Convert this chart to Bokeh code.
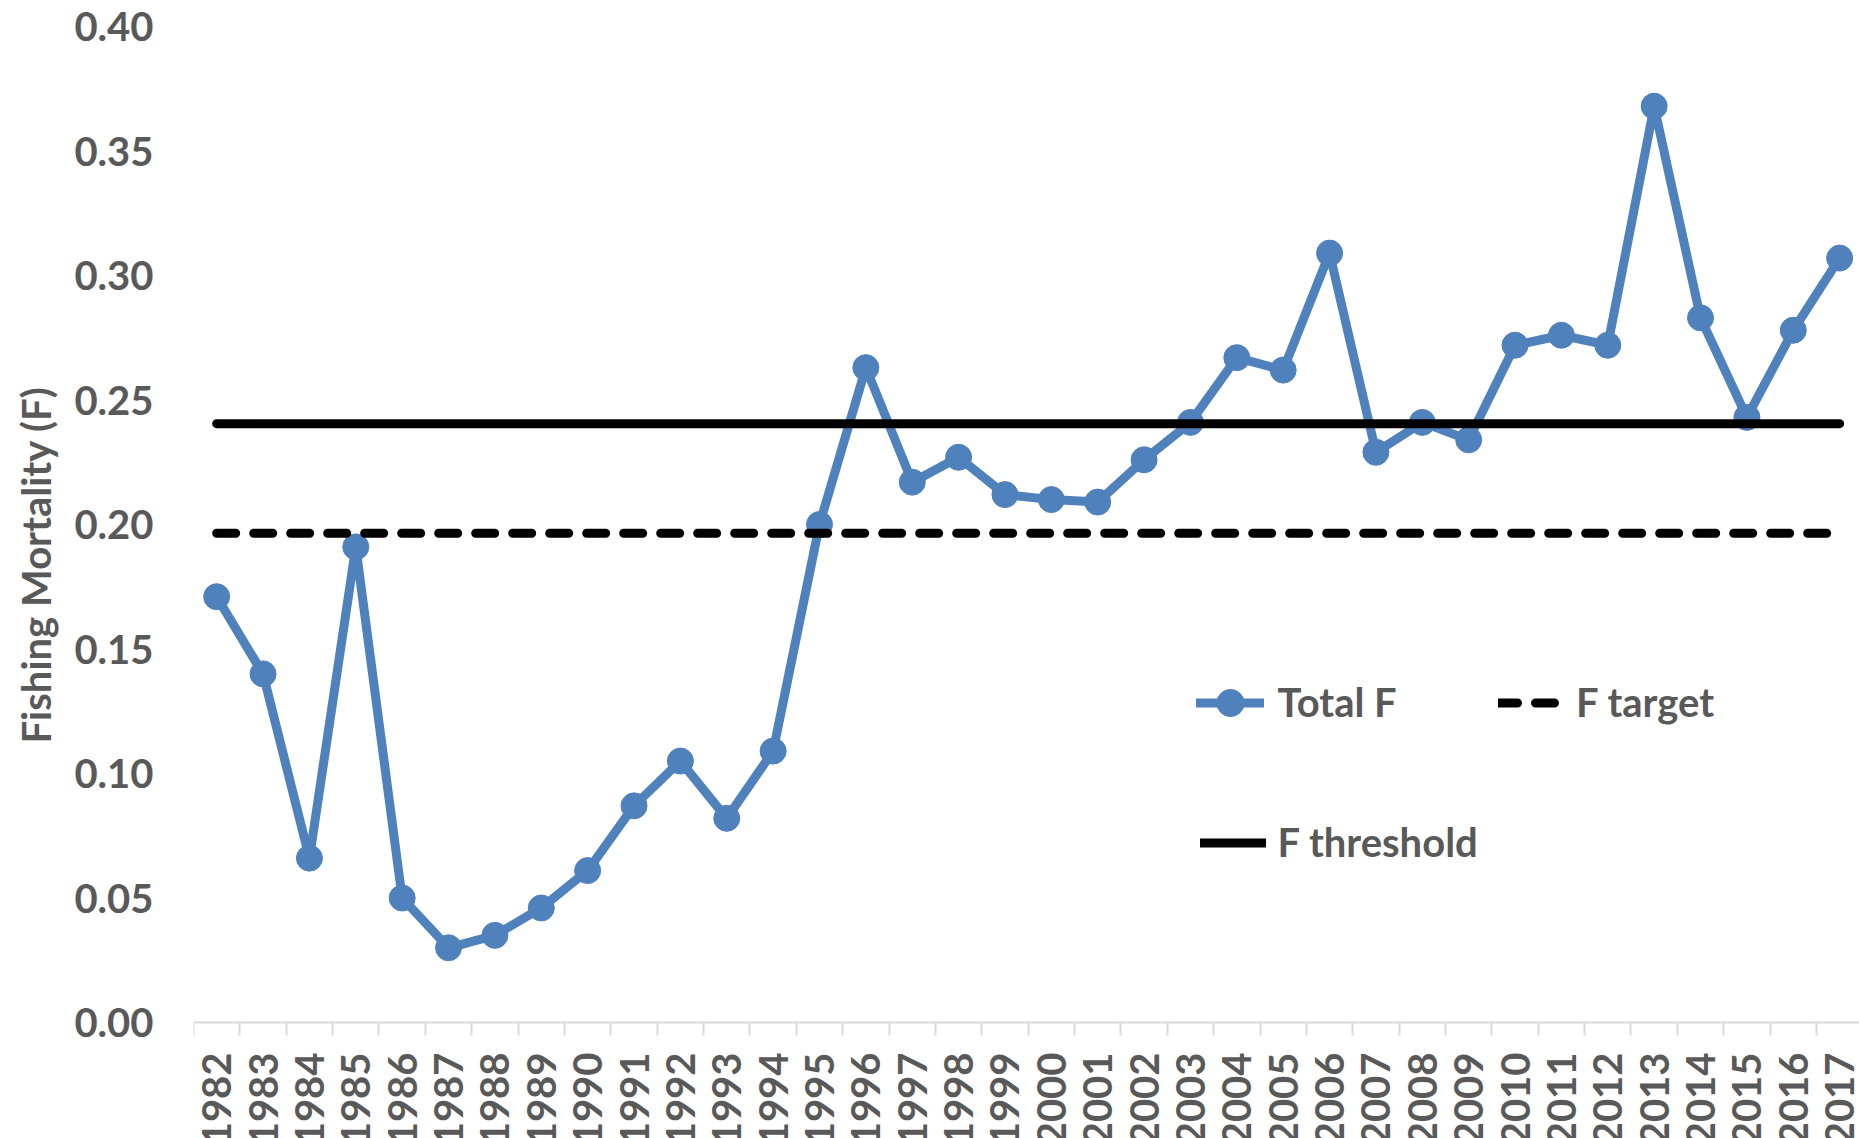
import math
from bokeh.plotting import figure
from bokeh.models import (Range1d, FixedTicker, PrintfTickFormatter, Legend, LegendItem, Title)
from bokeh.embed import file_html
from bokeh.resources import INLINE

years = list(range(1982, 2018))
total_f = [0.171, 0.140, 0.066, 0.191, 0.050, 0.030, 0.035, 0.046, 0.061, 0.087,
           0.105, 0.082, 0.109, 0.200, 0.263, 0.217, 0.227, 0.212, 0.210, 0.209,
           0.226, 0.241, 0.267, 0.262, 0.309, 0.229, 0.241, 0.234, 0.272, 0.276,
           0.272, 0.368, 0.283, 0.243, 0.278, 0.307]
f_target = 0.1965
f_threshold = 0.2405
y_ticks = [0.0, 0.05, 0.10, 0.15, 0.20, 0.25, 0.30, 0.35, 0.40]
y_title = "Fishing Mortality (F)"

BLUE = "#4f81bd"
TXT = "#595959"
FONT = "Lato"
FS = "40px"

W, H = 1859, 1138
LEFT, TOP = 193, 26
PX_PER_YEAR = 46.37
PX_PER_UNIT = (1022 - TOP) / (y_ticks[-1] - y_ticks[0])

x_end = years[0] - 0.5 + (W - LEFT) / PX_PER_YEAR
y_start = y_ticks[0] - (H - 1022) / PX_PER_UNIT

p = figure(width=W, height=H, output_backend="svg", toolbar_location=None,
           x_range=Range1d(years[0] - 0.5, x_end),
           y_range=Range1d(y_start, y_ticks[-1]),
           min_border_left=LEFT, min_border_right=0, min_border_top=TOP,
           min_border_bottom=0)
p.outline_line_color = None
p.grid.visible = False

# x axis (sits at y = 0, inside the frame)
xa = p.xaxis[0]
xa.fixed_location = 0
xa.ticker = FixedTicker(ticks=years, minor_ticks=[y - 0.5 for y in years] + [years[-1] + 0.5])
xa.major_label_overrides = {y: str(y) for y in years}
xa.major_label_orientation = math.pi / 2
xa.major_tick_in = 0
xa.major_tick_out = 0
xa.major_tick_line_color = None
xa.minor_tick_in = 0
xa.minor_tick_out = 13
xa.minor_tick_line_color = "#d9d9d9"
xa.minor_tick_line_width = 2
xa.axis_line_color = "#d9d9d9"
xa.axis_line_width = 2
xa.major_label_standoff = 17
xa.major_label_text_font = FONT
xa.major_label_text_font_style = "bold"
xa.major_label_text_font_size = FS
xa.major_label_text_color = TXT

# y axis
ya = p.yaxis[0]
ya.ticker = FixedTicker(ticks=y_ticks)
ya.formatter = PrintfTickFormatter(format="%.2f")
ya.axis_line_color = None
ya.major_tick_line_color = None
ya.minor_tick_line_color = None
ya.major_tick_in = 0
ya.major_tick_out = 0
ya.major_label_standoff = 40
ya.major_label_text_font = FONT
ya.major_label_text_font_style = "bold"
ya.major_label_text_font_size = FS
ya.major_label_text_color = TXT

# y axis title, placed to the left of the axis
yt = Title(text=y_title, align="left", offset=395, vertical_align="top", standoff=19,
           text_font=FONT, text_font_style="bold", text_font_size=FS, text_color=TXT)
p.add_layout(yt, "left")

# data
r_line = p.line(years, total_f, line_width=9, line_color=BLUE, line_join="round", line_cap="round")
r_pts = p.scatter(years, total_f, size=26, fill_color=BLUE, line_color=BLUE)
r_tgt = p.line([years[0], years[-1]], [f_target, f_target], line_width=9, line_color="black",
               line_dash="19 18", line_cap="round")
r_thr = p.line([years[0], years[-1]], [f_threshold, f_threshold], line_width=9, line_color="black",
               line_cap="round")


def mk_legend(label, renderers, loc, gw, standoff):
    lg = Legend(items=[LegendItem(label=label, renderers=renderers)], location=loc,
                glyph_width=gw, glyph_height=75, label_standoff=standoff,
                padding=0, margin=0, spacing=0, border_line_color=None,
                background_fill_alpha=0, label_text_font=FONT,
                label_text_font_style="bold", label_text_font_size=FS,
                label_text_color=TXT)
    p.add_layout(lg, "center")


mk_legend("Total F", [r_line, r_pts], (1002.5, 398.5), 68, 14)
mk_legend("F target", [r_tgt], (1305, 398.5), 64, 14)
mk_legend("F threshold", [r_thr], (1006.5, 258.5), 66, 12)

open("out.html", "w").write(file_html(p, INLINE))
